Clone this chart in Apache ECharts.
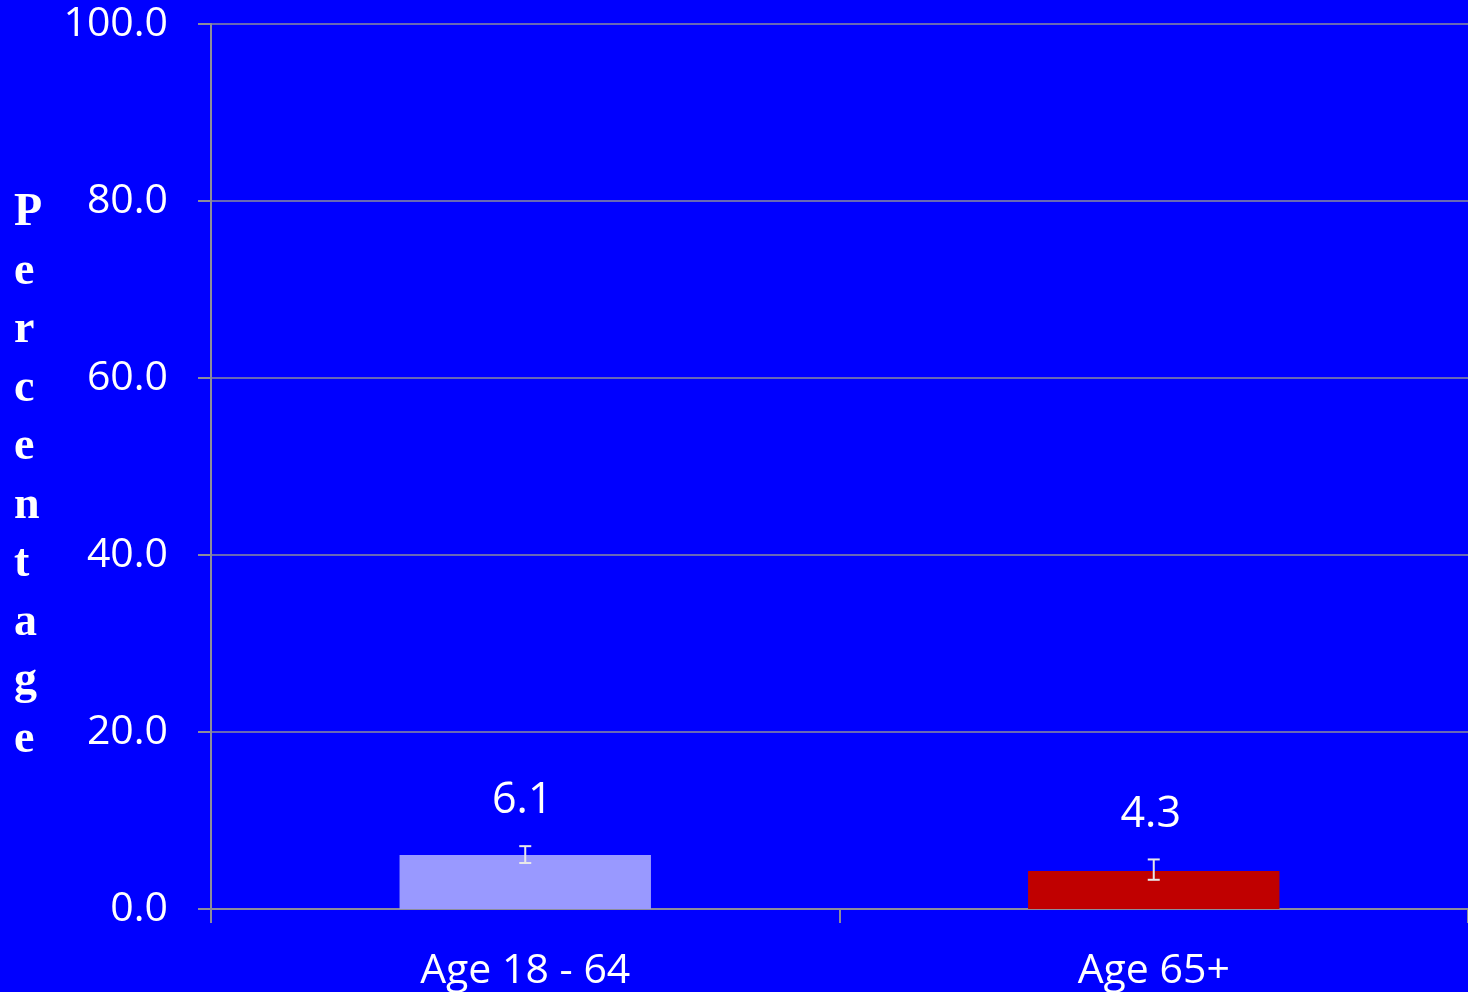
<!DOCTYPE html>
<html>
<head>
<meta charset="utf-8">
<script src="https://cdn.jsdelivr.net/npm/echarts@6/dist/echarts.min.js"></script>
<style>
  html, body { margin: 0; padding: 0; background: #0000ff; }
  #chart { width: 1468px; height: 992px; }
</style>
</head>
<body>
<div id="chart"></div>
<script>
const categories = ['Age 18 - 64', 'Age 65+']
const values = [6.1, 4.3]
const errLow = [5.2, 3.3]
const errHigh = [7.1, 5.6]
const barColors = ['#9999ff', '#c00000']
const yTicks = [0, 20, 40, 60, 80, 100]

const chart = echarts.init(document.getElementById('chart'))

const font = '"Open Sans", Lato, sans-serif'
const gridColor = '#8c8c9c'

const option = {
  backgroundColor: '#0000ff',
  animation: false,
  grid: { left: 211, width: 1261, top: 24, bottom: 82, containLabel: false },
  graphic: [
    {
      type: 'text',
      left: 14,
      top: 184,
      style: {
        text: 'Percentage'.split('').join('\n'),
        fill: '#ffffff',
        font: 'bold 46px "Liberation Serif", "DejaVu Serif", serif',
        lineHeight: 58.5,
        align: 'center',
        width: 34
      }
    }
  ],
  xAxis: {
    type: 'category',
    data: categories,
    axisLine: { show: true, lineStyle: { color: gridColor, width: 2 } },
    axisTick: { show: true, length: 14, lineStyle: { color: gridColor, width: 2 } },
    axisLabel: { color: '#ffffff', fontFamily: font, fontSize: 41, margin: 42 }
  },
  yAxis: {
    type: 'value',
    min: yTicks[0],
    max: yTicks[yTicks.length - 1],
    interval: 20,
    axisLine: { show: true, lineStyle: { color: gridColor, width: 2 } },
    axisTick: { show: true, length: 13, lineStyle: { color: gridColor, width: 2 } },
    splitLine: { show: true, lineStyle: { color: gridColor, width: 1.5 } },
    axisLabel: {
      color: '#ffffff', fontFamily: font, fontSize: 41, margin: 43,
      padding: [8, 0, 0, 0],
      formatter: v => v.toFixed(1)
    }
  },
  series: [
    {
      type: 'bar',
      barWidth: '40%',
      data: values.map((v, i) => ({ value: v, itemStyle: { color: barColors[i] } })),
      z: 2
    },
    {
      type: 'custom',
      z: 3,
      data: values.map((v, i) => [i, errLow[i], errHigh[i], v]),
      renderItem: (params, api) => {
        const lo = api.coord([api.value(0), api.value(1)])
        const hi = api.coord([api.value(0), api.value(2)])
        const x = lo[0]
        const cap = 6
        const ls = { stroke: '#e8e8e8', lineWidth: 2 }
        return {
          type: 'group',
          children: [
            { type: 'line', shape: { x1: x, y1: lo[1], x2: x, y2: hi[1] }, style: ls },
            { type: 'line', shape: { x1: x - cap, y1: lo[1], x2: x + cap, y2: lo[1] }, style: ls },
            { type: 'line', shape: { x1: x - cap, y1: hi[1], x2: x + cap, y2: hi[1] }, style: ls },
            {
              type: 'text',
              x: x - 3,
              y: hi[1] - 45,
              style: {
                text: api.value(3).toFixed(1),
                fill: '#ffffff',
                font: '43px ' + font,
                align: 'center',
                verticalAlign: 'middle'
              }
            }
          ]
        }
      }
    }
  ]
}

chart.setOption(option)
</script>
</body>
</html>
